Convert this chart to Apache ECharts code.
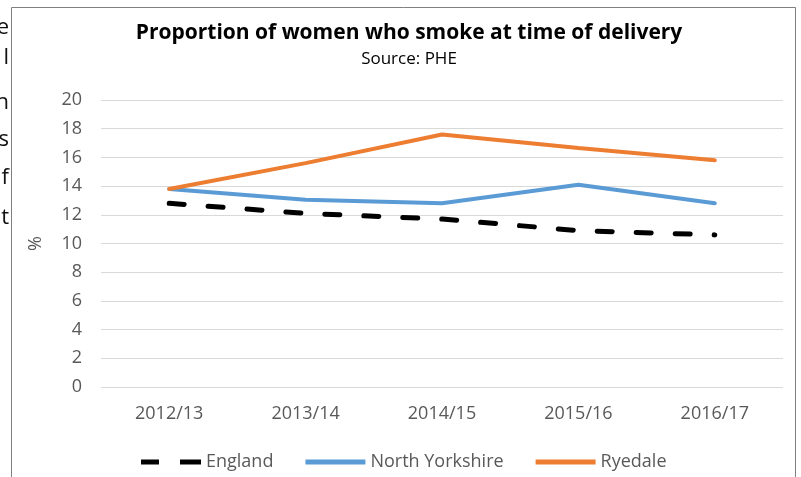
<!DOCTYPE html>
<html>
<head>
<meta charset="utf-8">
<script src="https://cdn.jsdelivr.net/npm/echarts@6/dist/echarts.min.js"></script>
<style>html,body{margin:0;padding:0;background:#fff;}#c{width:801px;height:477px;}</style>
</head>
<body>
<div id="c"></div>
<script>
const categories = ['2012/13', '2013/14', '2014/15', '2015/16', '2016/17'];
const england = [12.8, 12.1, 11.7, 10.9, 10.6];
const northYorkshire = [13.8, 13.05, 12.8, 14.1, 12.8];
const ryedale = [13.8, 15.6, 17.6, 16.65, 15.8];
const yTicks = [0, 2, 4, 6, 8, 10, 12, 14, 16, 18, 20];
const edgeLetters = [['e', 28], ['l', 58], ['n', 103], ['s', 140], ['f', 178], ['t', 218]];

const FONT = '"Open Sans"';
const chart = echarts.init(document.getElementById('c'));
const graphics = [
  { type: 'rect', shape: { x: 11.5, y: 7.5, width: 784, height: 480 },
    style: { fill: 'none', stroke: '#7f7f7f', lineWidth: 1 }, z: 10 }
];
edgeLetters.forEach(([t, y]) => graphics.push({
  type: 'text', x: 9, y: y, style: { text: t, fill: '#111', font: '22px ' + FONT,
  textAlign: 'right', textVerticalAlign: 'middle' }
}));
chart.setOption({
  backgroundColor: '#fff',
  animation: false,
  title: {
    text: 'Proportion of women who smoke at time of delivery',
    subtext: 'Source: PHE',
    left: 404, top: 18, textAlign: 'center', itemGap: 7,
    textStyle: { fontFamily: FONT, fontWeight: 'bold', fontSize: 21, color: '#000' },
    subtextStyle: { fontFamily: FONT, fontSize: 17, color: '#000' }
  },
  legend: {
    top: 448, left: 136, itemWidth: 60, itemHeight: 5, itemGap: 32,
    textStyle: { fontFamily: FONT, fontSize: 18, color: '#595959' },
    data: [
      { name: 'England', icon: 'path://M0,0L18,0L18,5L0,5ZM39,0L60,0L60,5L39,5Z' },
      { name: 'North Yorkshire', icon: 'rect' },
      { name: 'Ryedale', icon: 'rect' }
    ]
  },
  grid: { left: 101, right: 18, top: 100, bottom: 90, containLabel: false },
  xAxis: {
    type: 'category', data: categories, boundaryGap: true,
    axisLine: { show: false }, axisTick: { show: false },
    axisLabel: { fontFamily: FONT, fontSize: 18, color: '#595959', margin: 18 }
  },
  yAxis: {
    type: 'value', min: yTicks[0], max: yTicks[yTicks.length - 1], interval: 2,
    name: '%', nameLocation: 'middle', nameGap: 56, nameRotate: 90,
    nameTextStyle: { fontFamily: FONT, fontSize: 18, color: '#595959' },
    axisLine: { show: false }, axisTick: { show: false },
    axisLabel: { fontFamily: FONT, fontSize: 18, color: '#595959', margin: 19 },
    splitLine: { lineStyle: { color: '#d9d9d9', width: 1 } }
  },
  series: [
    { name: 'England', type: 'line', data: england, symbol: 'none', color: '#000',
      lineStyle: { color: '#000', width: 5, type: [15, 24], cap: 'round' } },
    { name: 'North Yorkshire', type: 'line', data: northYorkshire, symbol: 'none', color: '#5b9bd5',
      lineStyle: { color: '#5b9bd5', width: 4, cap: 'round' } },
    { name: 'Ryedale', type: 'line', data: ryedale, symbol: 'none', color: '#ed7d31',
      lineStyle: { color: '#ed7d31', width: 4, cap: 'round' } }
  ],
  graphic: graphics
});
</script>
</body>
</html>
